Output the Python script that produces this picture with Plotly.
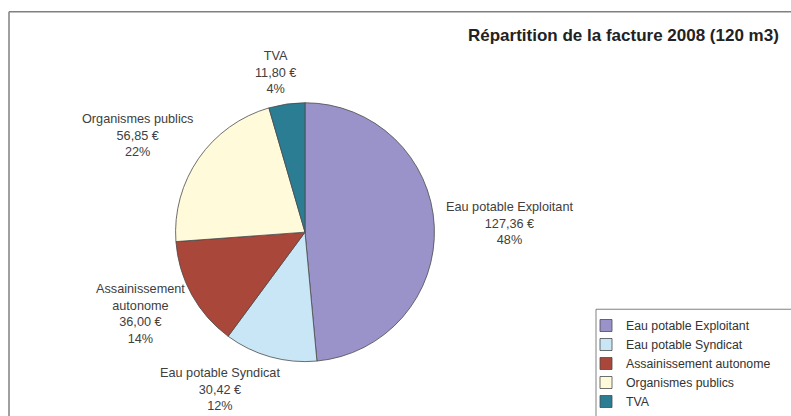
import plotly.graph_objects as go

categories = ["Eau potable Exploitant", "Eau potable Syndicat", "Assainissement autonome",
              "Organismes publics", "TVA"]
label_lines = ["Eau potable Exploitant", "Eau potable Syndicat", "Assainissement<br>autonome",
               "Organismes publics", "TVA"]
amounts = [127.36, 30.42, 36.00, 56.85, 11.80]
percents = [48, 12, 14, 22, 4]
colors = ["#9A93CA", "#C8E6F6", "#A8473A", "#FFFADA", "#2A7D93"]

W, H = 791, 416
# label centre positions (pixels)
label_pos = [(510, 226), (220, 394), (140, 318), (137, 137), (275, 73)]

def px(x): return x / W
def py(y): return 1 - y / H

fig = go.Figure()
fig.add_trace(go.Pie(
    labels=categories, values=amounts, sort=False, direction="clockwise", rotation=0,
    marker=dict(colors=colors, line=dict(color="#4a4a4a", width=0.8)),
    textinfo="none", hoverinfo="label+value+percent",
    domain=dict(x=[px(174), px(436)], y=[py(366), py(104)]),
    showlegend=True,
))

annotations = []
for lab, amt, pct, (x, y) in zip(label_lines, amounts, percents, label_pos):
    txt = f"{lab}<br>{amt:.2f} €".replace(".", ",") + f"<br>{pct}%"
    annotations.append(dict(x=px(x), y=py(y), xref="paper", yref="paper", text=txt,
                            showarrow=False, xanchor="center", yanchor="middle",
                            font=dict(family="Liberation Sans, Arial", size=12.7, color="#404040")))
annotations.append(dict(x=px(781), y=py(36), xref="paper", yref="paper",
                        text="<b>Répartition de la facture 2008 (120 m3)</b>", showarrow=False,
                        xanchor="right", yanchor="middle",
                        font=dict(family="Liberation Sans, Arial", size=17, color="#222222")))

shapes = [
    dict(type="line", xref="paper", yref="paper", x0=px(9), x1=px(800), y0=py(12), y1=py(12),
         line=dict(color="#808080", width=1.5)),
    dict(type="line", xref="paper", yref="paper", x0=px(9), x1=px(9), y0=py(12), y1=py(430),
         line=dict(color="#808080", width=1.5)),
    dict(type="rect", xref="paper", yref="paper", x0=px(596), x1=px(820), y0=py(313), y1=py(440),
         line=dict(color="#808080", width=1)),
]

fig.update_layout(
    width=W, height=H, margin=dict(l=0, r=0, t=0, b=0),
    paper_bgcolor="white", plot_bgcolor="white",
    annotations=annotations, shapes=shapes,
    legend=dict(x=px(586), y=py(315), xanchor="left", yanchor="top",
                font=dict(family="Liberation Sans, Arial", size=12.3, color="#333333"),
                borderwidth=0, bgcolor="rgba(0,0,0,0)", tracegroupgap=0),
    font=dict(family="Liberation Sans, Arial"),
)
fig.write_html("out.html", config={"displayModeBar": False},
               post_script="document.body.style.margin='0';document.body.style.overflow='hidden';")
